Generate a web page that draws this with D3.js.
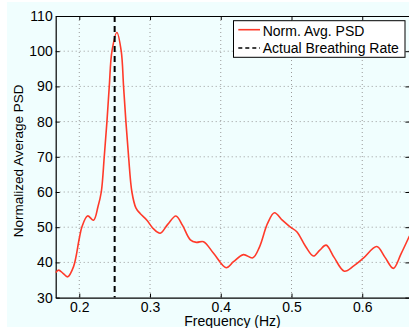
<!DOCTYPE html>
<html>
<head>
<meta charset="utf-8">
<script src="https://cdn.jsdelivr.net/npm/d3@7"></script>
<style>
html,body{margin:0;padding:0;background:#ffffff;}
svg{display:block;}
text{font-family:"Liberation Sans",Arial,Helvetica,sans-serif;fill:#000;}
</style>
</head>
<body>
<svg id="chart" width="409" height="328"></svg>
<script>
// ---- data ----
const freq = [0.1667,0.1708,0.177,0.1835,0.1919,0.2,0.2038,0.2117,0.2202,0.2264,0.2311,0.2353,0.2391,0.2424,0.2462,0.2532,0.2593,0.2626,0.2659,0.2697,0.2744,0.2800,0.286,0.2956,0.3050,0.3144,0.325,0.3366,0.346,0.357,0.3656,0.3756,0.3898,0.4076,0.418,0.432,0.4453,0.455,0.466,0.4759,0.487,0.498,0.5075,0.520,0.531,0.540,0.549,0.560,0.5747,0.588,0.6016,0.6205,0.632,0.644,0.655,0.6667];
const psd  = [37.1,37.8,36.9,35.9,38.8,46.8,50.1,53.2,52.0,55.8,60,70,80,90,100,105.3,100,90,80,70,60,55.5,53.9,52,49.5,48.3,50.8,53.2,50.5,46.4,45.7,45.9,42.6,38.5,40.2,42.2,41.3,44.5,51.0,54.1,52.0,50.1,48.7,44.5,41.8,43.5,44.9,41.5,37.5,39.0,41.2,44.5,41.5,38.3,42.5,47.5];
const breathingRate = 0.25;
const xTicks = [0.2,0.3,0.4,0.5,0.6];
const yTicks = [30,40,50,60,70,80,90,100,110];
const xDomain = [1/6, 2/3];
const yDomain = [30, 110];
const seriesNames = ["Norm. Avg. PSD","Actual Breathing Rate"];
const xLabel = "Frequency (Hz)";
const yLabel = "Normalized Average PSD";

// ---- layout ----
const svg = d3.select("#chart");
const L = 55.7, R = 409.4, T = 16, B = 297.6;
const x = d3.scaleLinear().domain(xDomain).range([L, R]);
const y = d3.scaleLinear().domain(yDomain).range([B, T]);

svg.append("rect").attr("x",7).attr("y",2).attr("width",402).attr("height",325).attr("fill","#f0fefe");
svg.append("rect").attr("x",L).attr("y",T).attr("width",R-L).attr("height",B-T).attr("fill","#f0fefe");

// grid
const grid = svg.append("g");
grid.selectAll(".gx").data(xTicks).enter().append("line")
  .attr("x1",d=>x(d)).attr("x2",d=>x(d)).attr("y1",T).attr("y2",B)
  .attr("stroke","#9a9a9a").attr("stroke-width",1).attr("stroke-dasharray","1,3");
grid.selectAll(".gy").data(yTicks.filter(d=>d>30&&d<110)).enter().append("line")
  .attr("x1",L).attr("x2",R).attr("y1",d=>y(d)).attr("y2",d=>y(d))
  .attr("stroke","#9a9a9a").attr("stroke-width",1).attr("stroke-dasharray","1,3");

// axes
const fmtX = d3.format(".1f");
const axB = d3.axisBottom(x).tickValues(xTicks).tickSizeInner(-4).tickSizeOuter(0).tickPadding(4).tickFormat(fmtX);
const axT = d3.axisTop(x).tickValues(xTicks).tickSizeInner(-4).tickSizeOuter(0).tickFormat("");
const axL = d3.axisLeft(y).tickValues(yTicks).tickSizeInner(-4).tickSizeOuter(0).tickPadding(3);
const axR = d3.axisRight(y).tickValues(yTicks).tickSizeInner(-4).tickSizeOuter(0).tickFormat("");

function style(g){
  g.select(".domain").attr("stroke","#000").attr("stroke-width",1.2);
  g.selectAll(".tick line").attr("stroke","#000").attr("stroke-width",1);
  g.selectAll(".tick text").attr("font-size","14px").attr("fill","#000")
    .attr("font-family","'Liberation Sans',Arial,Helvetica,sans-serif");
}
svg.append("g").attr("transform",`translate(0,${B})`).call(axB).call(style);
svg.append("g").attr("transform",`translate(0,${T})`).call(axT).call(style);
svg.append("g").attr("transform",`translate(${L},0)`).call(axL).call(style);
svg.append("g").attr("transform",`translate(${R},0)`).call(axR).call(style);

// data
const pts = freq.map((f,i)=>[f,psd[i]]);
const line = d3.line().x(d=>x(d[0])).y(d=>y(d[1])).curve(d3.curveCatmullRom.alpha(0.5));
svg.append("path").datum(pts).attr("d",line).attr("fill","none")
  .attr("stroke","#ff3a2a").attr("stroke-width",1.6);

svg.append("line").attr("x1",x(breathingRate)).attr("x2",x(breathingRate))
  .attr("y1",T).attr("y2",B).attr("stroke","#000").attr("stroke-width",2)
  .attr("stroke-dasharray","6,4");

// labels
svg.append("text").attr("x",(L+R)/2).attr("y",326).attr("text-anchor","middle")
  .attr("font-size","14px").text(xLabel);
svg.append("text").attr("transform",`translate(22.5,${(T+B)/2+4}) rotate(-90)`)
  .attr("text-anchor","middle").attr("font-size","13.5px").text(yLabel);

// legend
const lg = svg.append("g");
lg.append("rect").attr("x",233.5).attr("y",20.7).attr("width",171.5).attr("height",36.6)
  .attr("fill","#fff").attr("stroke","#000").attr("stroke-width",1);
lg.append("line").attr("x1",238.3).attr("x2",260).attr("y1",29.7).attr("y2",29.7)
  .attr("stroke","#ff3a2a").attr("stroke-width",1.6);
lg.append("line").attr("x1",238.3).attr("x2",260).attr("y1",48).attr("y2",48)
  .attr("stroke","#000").attr("stroke-width",1.5).attr("stroke-dasharray","4,3");
lg.append("text").attr("x",262.7).attr("y",35.5).attr("font-size","14px").text(seriesNames[0]);
lg.append("text").attr("x",262.7).attr("y",52.6).attr("font-size","14px").text(seriesNames[1]);
</script>
</body>
</html>
